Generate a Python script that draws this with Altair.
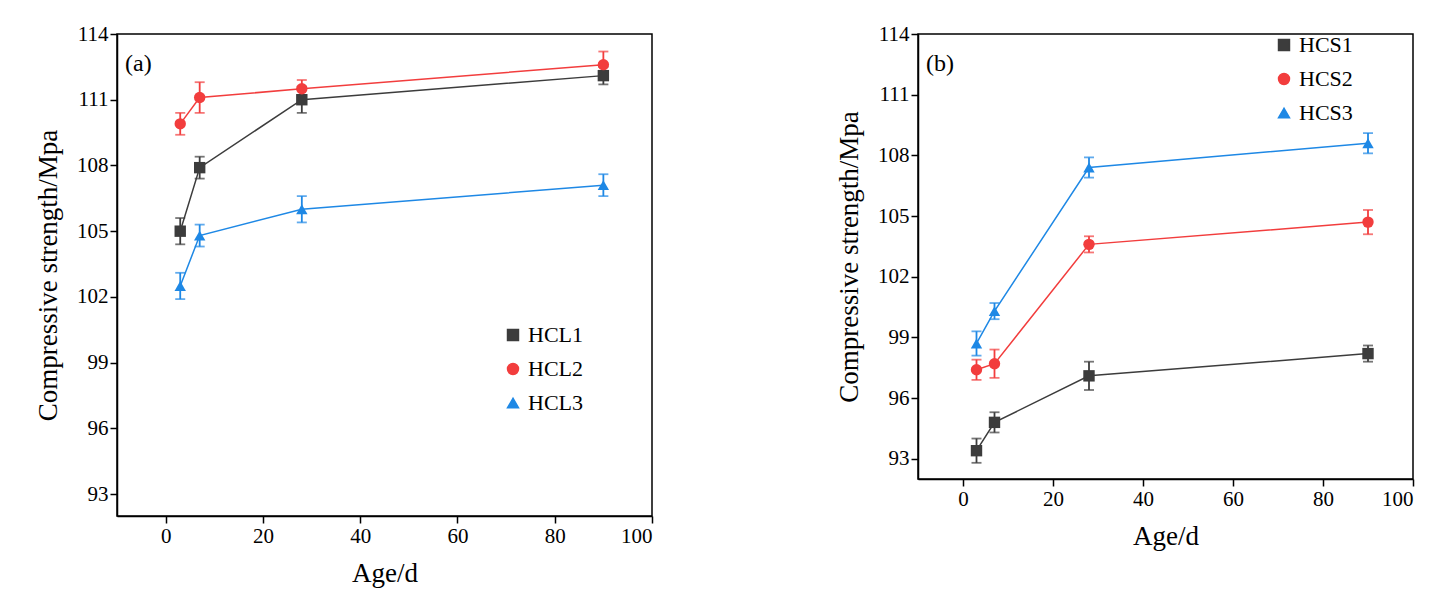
import altair as alt
import pandas as pd

ages = [3, 7, 28, 90]

hcl_names = ["HCL1", "HCL2", "HCL3"]
hcl_vals = [
    [105.0, 107.9, 111.0, 112.1],
    [109.9, 111.1, 111.5, 112.6],
    [102.5, 104.8, 106.0, 107.1],
]
hcl_err = [
    [0.6, 0.5, 0.6, 0.4],
    [0.5, 0.7, 0.4, 0.6],
    [0.6, 0.5, 0.6, 0.5],
]

hcs_names = ["HCS1", "HCS2", "HCS3"]
hcs_vals = [
    [93.4, 94.8, 97.1, 98.2],
    [97.4, 97.7, 103.6, 104.7],
    [98.7, 100.3, 107.4, 108.6],
]
hcs_err = [
    [0.6, 0.5, 0.7, 0.4],
    [0.5, 0.7, 0.4, 0.6],
    [0.6, 0.4, 0.5, 0.5],
]

colores = ["#3c3c3c", "#f23d3d", "#1e88e5"]
formas = ["square", "circle", "triangle-up"]
FUENTE = "Liberation Serif"


def tabla(nombres, vals, errs):
    filas = []
    for n, v, e in zip(nombres, vals, errs):
        for a, y, d in zip(ages, v, e):
            filas.append({"serie": n, "age": a, "y": y, "lo": y - d, "hi": y + d})
    return pd.DataFrame(filas)


def panel(df, nombres, etiqueta, ancho, alto, lx, ly):
    xs = alt.Scale(domain=[-10, 100], nice=False)
    ys = alt.Scale(domain=[92, 114], nice=False, zero=False)
    color = alt.Color("serie:N", scale=alt.Scale(domain=nombres, range=colores),
                      legend=alt.Legend(title=None, orient="none", legendX=lx, legendY=ly,
                                        labelFontSize=22, labelFont=FUENTE, symbolSize=120,
                                        symbolStrokeWidth=1.5, rowPadding=12, labelColor="black"))
    forma = alt.Shape("serie:N", scale=alt.Scale(domain=nombres, range=formas))
    base = alt.Chart(df)
    lineas = base.mark_line(strokeWidth=1.5).encode(
        x=alt.X("age:Q", scale=xs, title="Age/d",
                axis=alt.Axis(values=[0, 20, 40, 60, 80, 100], grid=False)),
        y=alt.Y("y:Q", scale=ys, title="Compressive strength/Mpa",
                axis=alt.Axis(values=list(range(93, 115, 3)), grid=False)),
        color=color,
    )
    puntos = base.mark_point(filled=True, size=130, opacity=1).encode(
        x="age:Q", y="y:Q", color=color, shape=forma)
    barras = base.mark_errorbar(ticks=alt.TickConfig(size=10, thickness=1.8), thickness=1.8).encode(
        x="age:Q", y=alt.Y("lo:Q", title="Compressive strength/Mpa"), y2="hi:Q",
        color=alt.Color("serie:N", scale=alt.Scale(domain=nombres, range=colores), legend=None))
    texto = alt.Chart(pd.DataFrame({"t": [etiqueta]})).mark_text(
        align="left", baseline="top", fontSize=24, font=FUENTE, color="black").encode(
        x=alt.value(8), y=alt.value(18), text="t:N")
    return (lineas + barras + puntos + texto).properties(width=ancho, height=alto)


a = panel(tabla(hcl_names, hcl_vals, hcl_err), hcl_names, "(a)", 535, 482, 385, 290)
b = panel(tabla(hcs_names, hcs_vals, hcs_err), hcs_names, "(b)", 495, 445, 355, 0)

chart = alt.hconcat(a, b, spacing=180).resolve_scale(
    color="independent", shape="independent"
).properties(
    padding={"left": 25, "top": 14, "right": 5, "bottom": 5}
).configure_view(
    stroke="black", strokeWidth=1.5
).configure_axis(
    labelFont=FUENTE, titleFont=FUENTE, labelFontSize=21, titleFontSize=27,
    titleFontWeight="normal", labelColor="black", titleColor="black",
    domainColor="black", tickColor="black", tickSize=7, domainWidth=1.5, tickWidth=1.5,
    titlePadding=14,
).configure_legend(symbolType="stroke")

chart.save("out.html", embed_options={"renderer": "svg", "actions": False})
